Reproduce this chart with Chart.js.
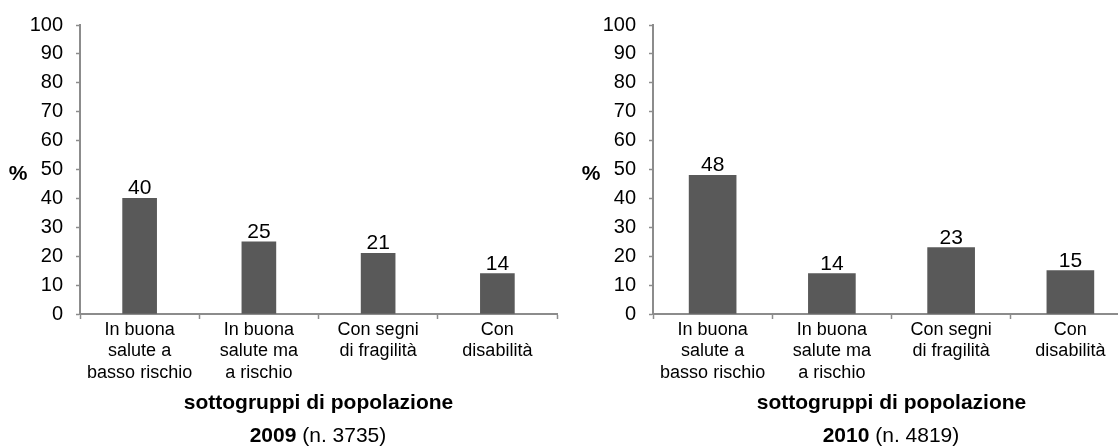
<!DOCTYPE html>
<html>
<head>
<meta charset="utf-8">
<script src="https://cdn.jsdelivr.net/npm/chart.js@4/dist/chart.umd.min.js"></script>
<style>
  html, body { margin: 0; padding: 0; background: #fff; overflow: hidden; }
  body { width: 1118px; height: 448px; position: relative; }
  .panel { position: absolute; top: 0; width: 575px; height: 448px; }
  .caption { position: absolute; top: 422px; width: 300px; text-align: center;
             font: 21px "Liberation Sans", Arial, sans-serif; color: #000; line-height: 26px; }
</style>
</head>
<body>
<div class="panel" style="left:0"><canvas id="chart2009"></canvas></div>
<div class="panel" style="left:573px"><canvas id="chart2010"></canvas></div>
<div class="caption" style="left:168px"><b>2009</b> (n. 3735)</div>
<div class="caption" style="left:741px"><b>2010</b> (n. 4819)</div>
<script>
// --- dati ---
const categories = [
  ['In buona', 'salute a', 'basso rischio'],
  ['In buona', 'salute ma', 'a rischio'],
  ['Con segni', 'di fragilità'],
  ['Con', 'disabilità']
];
const values2009 = [40, 25, 21, 14];
const values2010 = [48, 14, 23, 15];
const yTicksMin = 0;
const yTicksMax = 100;
const yTicksStep = 10;
const xTitle = 'sottogruppi di popolazione';

const FONT = '"Liberation Sans", Arial, sans-serif';
const BAR = '#595959';
const AXIS = '#8c8c8c';

// etichette dei valori sopra le barre + simbolo "%"
const valueLabels = {
  id: 'valueLabels',
  afterDatasetsDraw(chart) {
    const ctx = chart.ctx;
    const meta = chart.getDatasetMeta(0);
    ctx.save();
    ctx.fillStyle = '#000';
    ctx.textAlign = 'center';
    ctx.textBaseline = 'alphabetic';
    ctx.font = '21px ' + FONT;
    meta.data.forEach((bar, i) => {
      ctx.fillText(chart.data.datasets[0].data[i], bar.x, bar.y - 4);
    });
    ctx.font = 'bold 21px ' + FONT;
    ctx.textBaseline = 'middle';
    ctx.fillText('%', chart.chartArea.left - 62, chart.scales.y.getPixelForValue(50) + 5);
    ctx.restore();
  }
};

function makeChart(id, data, barWidth) {
  return new Chart(document.getElementById(id), {
    type: 'bar',
    data: {
      labels: categories,
      datasets: [{ data, backgroundColor: BAR, barThickness: barWidth }]
    },
    options: {
      responsive: false,
      animation: false,
      layout: { padding: { top: 20, right: 18, bottom: 32, left: 0 } },
      plugins: { legend: { display: false }, tooltip: { enabled: false } },
      scales: {
        x: {
          grid: { drawOnChartArea: false, tickLength: 5, tickColor: AXIS, tickWidth: 1.5 },
          border: { color: AXIS, width: 2 },
          ticks: { color: '#000', font: { family: FONT, size: 18 }, padding: 0,
                   autoSkip: false, maxRotation: 0 },
          title: { display: true, text: xTitle, color: '#000',
                   font: { family: FONT, size: 21, weight: 'bold' }, padding: { top: 4, bottom: 0 } },
          afterFit: s => { s.height = 102; }
        },
        y: {
          min: yTicksMin, max: yTicksMax,
          grid: { drawOnChartArea: false, tickLength: 4, tickColor: AXIS, tickWidth: 1.5 },
          border: { color: AXIS, width: 2 },
          ticks: { stepSize: yTicksStep, color: '#000', font: { family: FONT, size: 20 }, padding: 13 },
          afterFit: s => { s.width = 80; }
        }
      }
    },
    plugins: [valueLabels]
  });
}

const c1 = document.getElementById('chart2009');
c1.width = 575; c1.height = 448;
const c2 = document.getElementById('chart2010');
c2.width = 575; c2.height = 448;
makeChart('chart2009', values2009, 34);
makeChart('chart2010', values2010, 47);
</script>
</body>
</html>
